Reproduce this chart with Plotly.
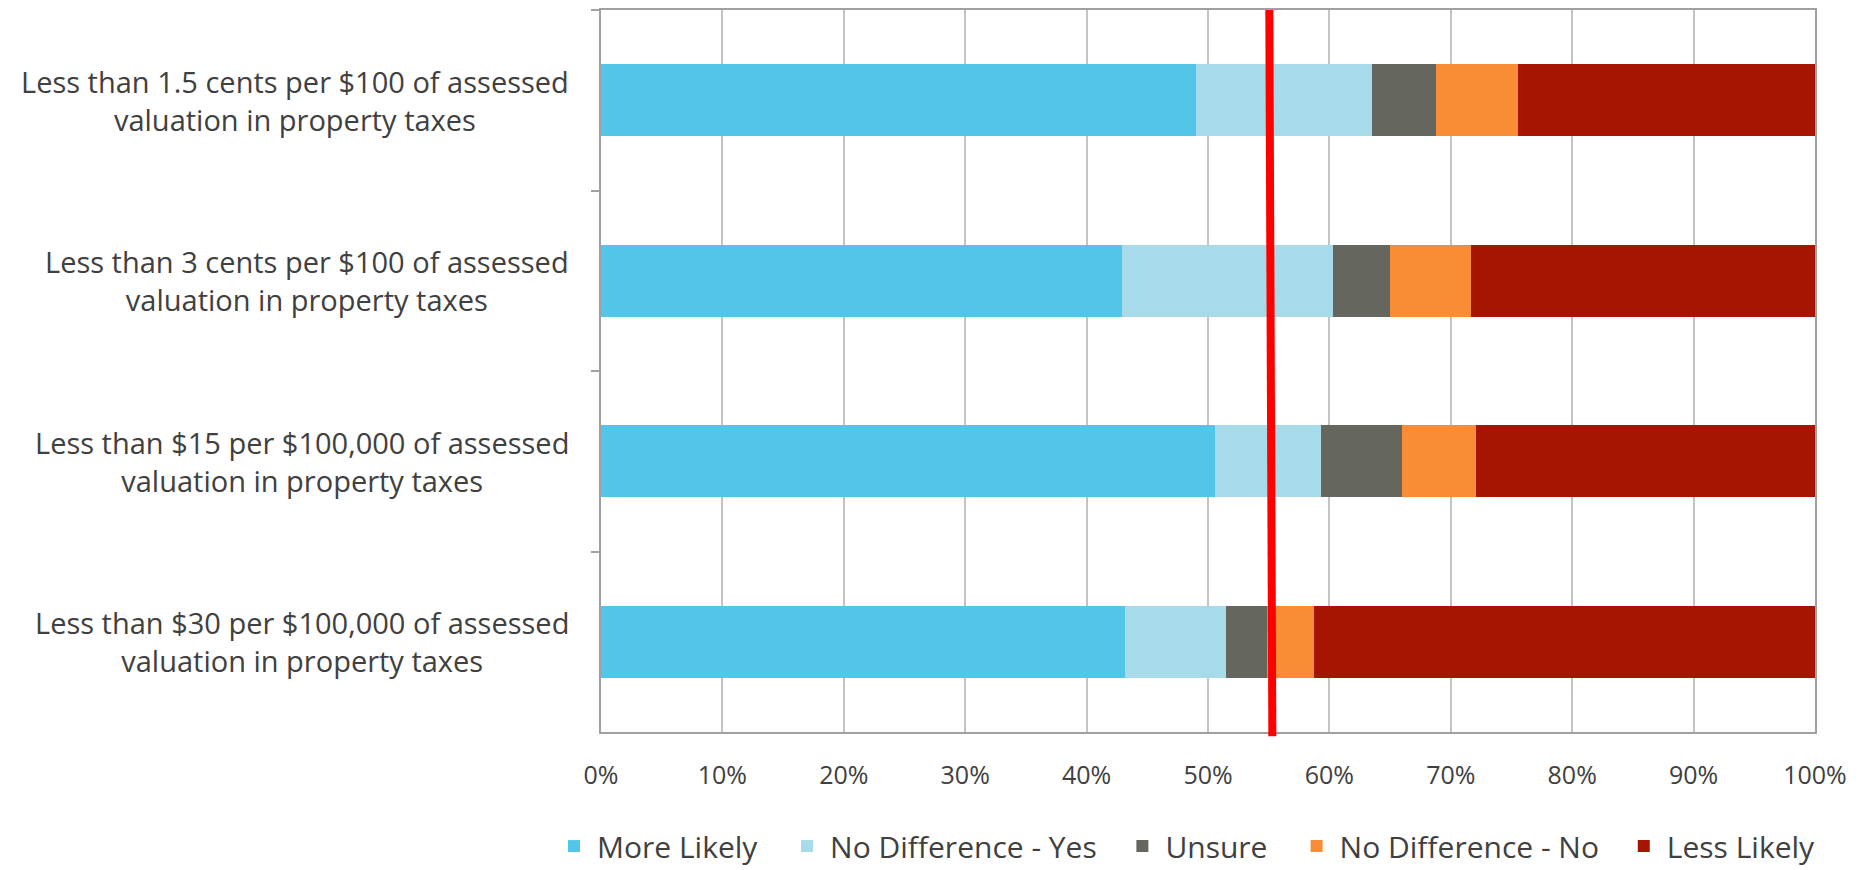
import plotly.graph_objects as go

# Category labels (two lines each, top to bottom)
label_line1 = [
    "Less than 1.5 cents per $100 of assessed",
    "Less than 3 cents per $100 of assessed",
    "Less than $15 per $100,000 of assessed",
    "Less than $30 per $100,000 of assessed",
]
label_line2 = [
    "valuation in property taxes",
    "valuation in property taxes",
    "valuation in property taxes",
    "valuation in property taxes",
]
categories = [a + " " + b for a, b in zip(label_line1, label_line2)]

# Series values (percent of respondents)
more_likely = [49.0, 42.9, 50.6, 43.2]
nd_yes = [14.5, 17.4, 8.7, 8.3]
unsure = [5.3, 4.7, 6.7, 3.4]
nd_no = [6.7, 6.7, 6.1, 3.8]
less_likely = [24.5, 28.3, 27.9, 41.3]

series_names = ["More Likely", "No Difference - Yes", "Unsure", "No Difference - No", "Less Likely"]
series_values = [more_likely, nd_yes, unsure, nd_no, less_likely]
series_colors = ["#53C5E8", "#A8DBEA", "#65675F", "#F88D36", "#A51502"]

# Threshold reference line (percent), slightly slanted top -> bottom
threshold_top = 55.05
threshold_bottom = 55.3

x_ticks = list(range(0, 101, 10))

TEXT = "#404040"
FONT = "Open Sans"

# horizontal anchor of each legend entry (paper fraction)
legend_x = [-0.0412, 0.1508, 0.4270, 0.5705, 0.8400]
legend_ids = ["legend", "legend2", "legend3", "legend4", "legend5"]

fig = go.Figure()
for name, vals, col, lid in zip(series_names, series_values, series_colors, legend_ids):
    fig.add_trace(go.Bar(
        y=categories, x=vals, name=name, orientation="h",
        marker=dict(color=col, line=dict(width=0)),
        hoverinfo="x+name", legend=lid,
    ))

fig.add_shape(type="line", xref="x", yref="paper",
              x0=threshold_top, y0=1.0, x1=threshold_bottom, y1=-0.006,
              line=dict(color="#FF0000", width=8), layer="above")

for cat, l1, l2 in zip(categories, label_line1, label_line2):
    fig.add_annotation(
        x=0, xref="paper", y=cat, yref="y",
        text=l1 + "<br>" + l2, showarrow=False,
        xanchor="right", yanchor="middle", align="center",
        xshift=-30, font=dict(family=FONT, size=29, color=TEXT),
    )

legend_style = dict(orientation="h", y=-0.158, yanchor="middle", xanchor="left",
                    font=dict(family=FONT, size=30, color=TEXT), itemwidth=36,
                    bgcolor="rgba(0,0,0,0)")

fig.update_layout(
    width=1873, height=870, autosize=False,
    barmode="stack", bargap=0.6,
    plot_bgcolor="white", paper_bgcolor="white",
    margin=dict(l=601, r=58, t=10, b=138, autoexpand=False),
    showlegend=True,
    xaxis=dict(range=[0, 100], tickvals=x_ticks, ticktext=[f"{v}%" for v in x_ticks],
               showgrid=True, gridcolor="#C3C3C3", gridwidth=1.5,
               showline=True, linecolor="#A0A0A0", linewidth=2, mirror=True,
               ticks="", zeroline=False, ticklabelstandoff=20,
               tickfont=dict(family=FONT, size=25, color=TEXT), fixedrange=True),
    yaxis=dict(categoryorder="array", categoryarray=categories, autorange="reversed",
               showticklabels=False, showgrid=False,
               showline=True, linecolor="#A0A0A0", linewidth=2, mirror=True,
               ticks="outside", tickson="boundaries", ticklen=8, tickcolor="#A0A0A0",
               tickwidth=2, fixedrange=True),
)
for lid, lx in zip(legend_ids, legend_x):
    fig.update_layout({lid: dict(legend_style, x=lx)})

fig.write_html("out.html", config={"displayModeBar": False},
               post_script="document.body.style.margin='0';")
